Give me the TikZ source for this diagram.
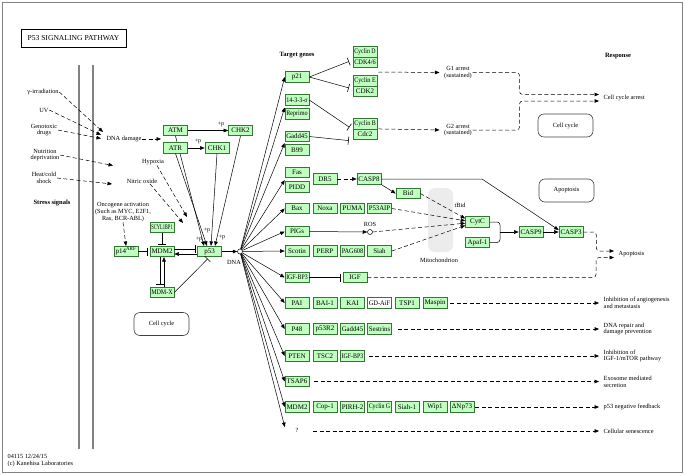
\documentclass[tikz,border=0pt]{standalone}
\usepackage{fontspec}
\setmainfont{Liberation Serif}
\usepackage{graphicx}
\usetikzlibrary{arrows.meta}
\definecolor{genefill}{RGB}{191,255,191}
\definecolor{genedraw}{RGB}{50,120,50}
\definecolor{framegray}{RGB}{130,130,130}
\definecolor{mito}{RGB}{236,236,236}
\newcommand\fitw[1]{\sbox0{#1}\ifdim\wd0>21.5pt\resizebox{21.5pt}{\height}{#1}\else#1\fi}
\newcommand\gn[4][gene]{\node[#1] (#2) at (#3) {\fitw{#4}};}
\tikzset{
 gene/.style={draw=genedraw, fill=genefill, line width=0.6pt, minimum width=24pt, minimum height=10.5pt, inner sep=0pt, font=\fontsize{7}{8}\selectfont},
 wgene/.style={gene, fill=white},
 lbl/.style={font=\fontsize{6.3}{6.8}\selectfont, align=center, inner sep=0.5pt},
 rlbl/.style={lbl, align=left, anchor=west},
 blbl/.style={font=\bfseries\fontsize{6.5}{7}\selectfont, inner sep=0.5pt},
 pl/.style={font=\fontsize{6}{6}\selectfont, inner sep=0pt},
 act/.style={-{Triangle[length=4.5pt,width=3.6pt]}, line width=0.5pt},
 inh/.style={-{Bar[width=8pt,line width=0.6pt]}, line width=0.5pt},
 dsh/.style={dash pattern=on 4pt off 2.5pt},
 rbox/.style={draw=black!75, line width=0.6pt, rounded corners=6pt, minimum width=55pt, minimum height=23pt, font=\fontsize{6.3}{7}\selectfont},
}
\begin{document}
\begin{tikzpicture}[x=1pt,y=-1pt]
\useasboundingbox (0,0) rectangle (685,474);
\draw[framegray,line width=1pt] (2,2) rectangle (682,472);
% membrane lines
\draw[framegray,line width=2pt] (79,65) -- (79,449);
\draw[framegray,line width=2pt] (93,65) -- (93,449);
% title
\node[draw,line width=0.9pt,minimum width=105pt,minimum height=18pt,inner sep=0pt,font=\fontsize{7.6}{8}\selectfont] (title) at (73.5,38) {P53 SIGNALING PATHWAY};

% stress signals
\node[lbl] (gamma) at (43,92) {γ-irradiation};
\node[lbl] (uv) at (44,110) {UV};
\node[lbl] (geno) at (44,130) {Genotoxic\\drugs};
\node[lbl] (nutr) at (45,155) {Nutrition\\deprivation};
\node[lbl] (heat) at (44,178) {Heat/cold\\shock};
\node[blbl] (stress) at (52,203) {Stress signals};
\node[lbl] (dnadmg) at (124,139) {DNA damage};
\node[lbl] (hypoxia) at (153,162) {Hypoxia};
\node[lbl] (nitric) at (142,181) {Nitric oxide};
\node[lbl] (onco) at (123,212) {Oncogene activation\\(Such as MYC, E2F1,\\Ras, BCR-ABL)};
\coordinate (dd1) at (103,132);
\coordinate (dd2) at (101,135);
\coordinate (dd3) at (101,138.5);
\coordinate (nx) at (113,165.5);
\coordinate (hx) at (112,184);
\coordinate (atmgrp) at (161,139);
\coordinate (hyx) at (187,217);
\coordinate (nox) at (183,223);
\draw[act,dsh] (gamma.east) -- (dd1);
\draw[act,dsh] (uv.east) -- (dd2);
\draw[act,dsh] (geno.east) -- (dd3);
\draw[act,dsh] (nutr.east) -- (nx);
\draw[act,dsh] (heat.east) -- (hx);
\draw[act,dsh] (dnadmg.east) -- (atmgrp);
\draw[act,dsh] ([xshift=4pt]hypoxia.south) -- (hyx);
\draw[act,dsh] ([xshift=8pt]nitric.south) -- (nox);

% core
\gn{p53}{209.5,251.5}{p53}
\gn{atm}{175.5,130.5}{ATM}
\draw[act] (atm.south) -- ([xshift=-5.5pt]p53.north);
\gn{atr}{175.5,148}{ATR}
\gn{chk2}{240.5,130.5}{CHK2}
\gn{chk1}{217,148}{CHK1}
\gn{mdm2}{162,251.5}{MDM2}
\gn{scyl}{162,227.5}{SCYL1BP1}
\gn{p14}{126,251.5}{p14\textsuperscript{ARF}}
\gn{mdmx}{162,292.5}{MDM-X}
\node[rbox] (cc1) at (161.5,324) {Cell cycle};
\draw[act] (atm.east) -- (chk2.west);
\node[pl] (p1) at (221,124) {+p};
\draw[act] (atr.east) -- (chk1.west);
\node[pl] (p2) at (198,141.5) {+p};
\draw[act] (atr.south) -- ([xshift=-2.5pt]p53.north);
\draw[act] (chk1.south) -- ([xshift=1.5pt]p53.north);
\draw[act] (chk2.south) -- ([xshift=5.5pt]p53.north);
\node[pl] (p3) at (199,239) {+p};
\node[pl] (p4) at (207,230) {+p};
\node[pl] (p5) at (222,237) {+p};
\draw[act,dsh] (onco.south) -- (p14.north);
\draw[inh,shorten >=1pt] (scyl.south) -- (mdm2.north);
\draw[inh,shorten >=2pt] (p14.east) -- (mdm2.west);
\draw[inh,shorten >=1.5pt] ([yshift=2.5pt]mdm2.east) -- ([yshift=2.5pt]p53.west);
\draw[act] ([yshift=-2.5pt]p53.west) -- ([yshift=-2.5pt]mdm2.east);
\draw[inh,shorten >=2pt] ([xshift=-2pt]mdm2.south) -- ([xshift=-2pt]mdmx.north);
\draw[act] ([xshift=2pt]mdmx.north) -- ([xshift=2pt]mdm2.south);
\draw[inh,shorten >=2.5pt] (mdmx.east) -- (p53.south);
\node[circle,draw,fill=white,line width=0.5pt,inner sep=0pt,minimum size=5pt] (dna) at (240,251.5) {};
\node[lbl] (dnal) at (234,262) {DNA};
\draw[act] (p53.east) -- (dna.west);

% target genes
\node[blbl] (tg) at (297,55) {Target genes};
\gn{p21}{297,77}{p21}
\gn{s1433}{297,100}{14-3-3-σ}
\gn{repr}{297,114}{Reprimo}
\gn{gadda}{297,136.5}{Gadd45}
\gn{b99}{297,150}{B99}
\gn{fas}{297,172.5}{Fas}
\gn{pidd}{297,187}{PIDD}
\gn{dr5}{325,179}{DR5}
\gn{casp8}{369,179}{CASP8}
\gn{bid}{408,193.5}{Bid}
\gn{bax}{297,208.5}{Bax}
\gn{noxa}{325,208.5}{Noxa}
\gn{puma}{352.5,208.5}{PUMA}
\gn{p53aip}{379.5,208.5}{P53AIP}
\gn{pigs}{297,231.5}{PIGs}
\node[circle,draw,fill=white,line width=0.5pt,inner sep=0pt,minimum size=5pt] (ros) at (370,232) {};
\node[lbl] (rosl) at (370,224) {ROS};
\gn{scotin}{297,251}{Scotin}
\gn{perp}{325,251}{PERP}
\gn{pag}{352.5,251}{PAG608}
\gn{siah}{379.5,251}{Siah}
\gn{igfbpa}{297,277.5}{IGF-BP3}
\gn{igf}{355,277.5}{IGF}
\gn{pai}{297,303}{PAI}
\gn{bai}{325,303}{BAI-1}
\gn{kai}{352.5,303}{KAI}
\gn[wgene]{gdaif}{379.5,303}{GD-AiF}
\gn{tsp}{407,303}{TSP1}
\gn{maspin}{435,303}{Maspin}
\gn{p48}{297,329}{P48}
\gn{p53r2}{325,329}{p53R2}
\gn{gaddb}{352.5,329}{Gadd45}
\gn{sestr}{379.5,329}{Sestrins}
\gn{pten}{297,356}{PTEN}
\gn{tsc}{325,356}{TSC2}
\gn{igfbpb}{352.5,356}{IGF-BP3}
\gn{tsap}{297,381.5}{TSAP6}
\gn{mdmb}{297,407}{MDM2}
\gn{cop}{325,407}{Cop-1}
\gn{pirh}{352.5,407}{PIRH-2}
\gn{cycg}{379.5,407}{Cyclin G}
\gn{siahb}{407,407}{Siah-1}
\gn{wip}{435,407}{Wip1}
\gn{dnp}{462,407}{ΔNp73}
\node[lbl,minimum width=24pt] (q) at (297,430) {?};

% cyclins
\gn{cycd}{365,52}{Cyclin D}
\gn{cdk46}{365,62.5}{CDK4/6}
\gn{cyce}{365,81}{Cyclin E}
\gn{cdk2}{365,91.5}{CDK2}
\gn{cycb}{365,124}{Cyclin B}
\gn{cdc2}{365,134.5}{Cdc2}
\draw[inh,shorten >=4pt] (p21.east) -- ([yshift=2.5pt]cdk46.west);
\draw[inh,shorten >=4pt] (p21.east) -- ([yshift=2.5pt]cdk2.west);
\draw[inh,shorten >=4pt] (s1433.east) -- ([yshift=5pt]cdc2.west);
\draw[inh,shorten >=4pt] (gadda.east) -- ([yshift=-6.5pt]cdc2.west);

% fan from DNA
\draw[act] (dna) -- (p21.west);
\draw[act] (dna) -- ([yshift=-7.5pt]s1433.west);
\draw[act] (dna) -- ([yshift=-6.5pt]gadda.west);
\draw[act] (dna) -- ([yshift=-7.5pt]fas.west);
\draw[act] (dna) -- (bax.west);
\draw[act] (dna) -- (pigs.west);
\draw[act] (dna) -- (scotin.west);
\draw[act] (dna) -- (igfbpa.west);
\draw[act] (dna) -- (pai.west);
\draw[act] (dna) -- (p48.west);
\draw[act] (dna) -- (pten.west);
\draw[act] (dna) -- (tsap.west);
\draw[act] (dna) -- (mdmb.west);
\draw[act] (dna) -- ([yshift=3pt]q.west);

% responses top
\node[blbl] (resp) at (618,56) {Response};
\node[lbl] (g1) at (458,72.5) {G1 arrest\\(sustained)};
\node[lbl] (g2) at (458,130) {G2 arrest\\(sustained)};
\draw[act,dsh,shorten >=4pt] ([xshift=1pt,yshift=-4pt]cdk46.south east) -- (g1.west);
\draw[act,dsh,shorten >=4pt] ([xshift=1pt]cdc2.north east) -- (g2.west);
\node[rlbl] (cca) at (603,98) {Cell cycle arrest};
\coordinate (cca1) at (599,94.5);
\coordinate (cca2) at (599,101);
\draw[act,dsh,rounded corners=3pt] (g1.east) -- ++(47,0) |- (cca1);
\draw[act,dsh,rounded corners=3pt] (g2.east) -- ++(47,0) |- (cca2);
\node[rbox] (cc2) at (565.5,125.5) {Cell cycle};

% apoptosis
\node[fill=mito,rounded corners=7pt,minimum width=25pt,minimum height=64pt,inner sep=0pt] (mito) at (440.5,220) {};
\node[lbl] (mitol) at (439,260) {Mitochondrion};
\node[rbox] (apbox) at (566.5,190.5) {Apoptosis};
\gn{cytc}{477.5,222}{CytC}
\gn{apaf}{477.5,242.5}{Apaf-1}
\node[lbl] (tbid) at (460,205) {tBid};
\gn{casp9}{531,232}{CASP9}
\gn{casp3}{571,232}{CASP3}
\draw[act,dsh] (dr5.east) -- (casp8.west);
\draw[act] (casp8.south east) -- (bid.west);
\draw[act] (casp8.east) -- (482,179) -- ([yshift=2pt]casp3.west);
\draw[act] (pigs.east) -- (ros.west);
\draw[act,dsh] (bid.east) -- ([yshift=3.5pt]cytc.west);
\draw[act,dsh] (p53aip.east) -- ([yshift=1.2pt]cytc.west);
\draw[act,dsh] (ros.east) -- ([yshift=-1.2pt]cytc.west);
\draw[act,dsh] (siah.east) -- ([yshift=-3.5pt]cytc.west);
\draw[inh,shorten >=2pt] (igfbpa.east) -- (igf.west);
\coordinate (junc) at (500,232);
\draw[line width=0.5pt,rounded corners=3pt] (cytc.east) -- (500,222) -- (500,242.5) -- (apaf.east);
\draw[act] (junc) -- (casp9.west);
\draw[act] (casp9.east) -- (casp3.west);
\node[rlbl] (apol) at (618,254) {Apoptosis};
\coordinate (apo1) at (614,251);
\coordinate (apo2) at (614,257.5);
\coordinate (apx) at (596,257.5);
\draw[act,dsh,rounded corners=3pt] (casp3.east) -- ++(13,0) |- (apo1);
\draw[act,dsh,rounded corners=3pt] (igf.east) -| (apx) -- (apo2);

% responses bottom
\node[rlbl] (r1) at (603,303) {Inhibition of angiogenesis\\and metastasis};
\node[rlbl] (r2) at (603,329) {DNA repair and\\damage prevention};
\node[rlbl] (r3) at (603,356) {Inhibition of\\IGF-1/mTOR pathway};
\node[rlbl] (r4) at (603,381.5) {Exosome mediated\\secretion};
\node[rlbl] (r5) at (603,407) {p53 negative feedback};
\node[rlbl] (r6) at (603,431) {Cellular senescence};
\draw[act,dsh,shorten <=3pt,shorten >=4pt] (maspin.east) -- (r1.west);
\draw[act,dsh,shorten <=6pt,shorten >=4pt] (sestr.east) -- (r2.west);
\draw[act,dsh,shorten <=4pt,shorten >=4pt] (igfbpb.east) -- (r3.west);
\draw[act,dsh,shorten <=5pt,shorten >=4pt] (tsap.east) -- (r4.west);
\draw[act,dsh,shorten <=1pt,shorten >=4pt] (dnp.east) -- (r5.west);
\draw[act,dsh,shorten <=4pt,shorten >=4pt] ([yshift=-1pt]q.east) -- (r6.west);

% footer
\node[lbl,align=left,anchor=north west] (foot) at (7,454) {04115 12/24/15\\(c) Kanehisa Laboratories};
\end{tikzpicture}
\end{document}
